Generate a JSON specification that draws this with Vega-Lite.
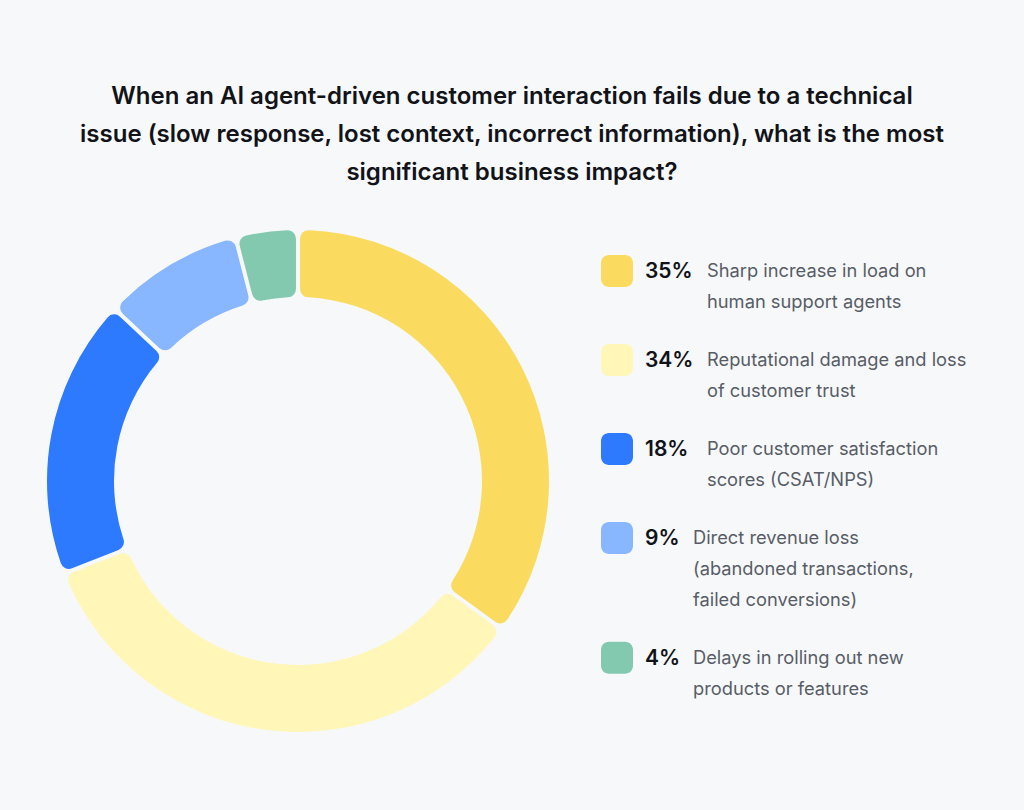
{
  "$schema": "https://vega.github.io/schema/vega-lite/v6.json",
  "background": "#F7F8FA",
  "padding": {"top": 85, "left": 0, "right": 0, "bottom": 46},
  "title": {
    "text": ["When an AI agent-driven customer interaction fails due to a technical", "issue (slow response, lost context, incorrect information), what is the most", "significant business impact?"],
    "anchor": "middle",
    "font": "Inter",
    "fontSize": 24,
    "fontWeight": 600,
    "lineHeight": 38,
    "baseline": "top",
    "color": "#111318",
    "offset": 6
  },
  "data": {
    "values": [
      {"idx": 1, "pct": "35%", "value": 35, "category": "Sharp increase in load on human support agents", "label": ["Sharp increase in load on", "human support agents"]},
      {"idx": 2, "pct": "34%", "value": 34, "category": "Reputational damage and loss of customer trust", "label": ["Reputational damage and loss", "of customer trust"]},
      {"idx": 3, "pct": "18%", "value": 18, "category": "Poor customer satisfaction scores (CSAT/NPS)", "label": ["Poor customer satisfaction", "scores (CSAT/NPS)"]},
      {"idx": 4, "pct": "9%", "value": 9, "category": "Direct revenue loss (abandoned transactions, failed conversions)", "label": ["Direct revenue loss", "(abandoned transactions,", "failed conversions)"]},
      {"idx": 5, "pct": "4%", "value": 4, "category": "Delays in rolling out new products or features", "label": ["Delays in rolling out new", "products or features"]}
    ]
  },
  "spacing": 0,
  "resolve": {"scale": {"color": "shared"}},
  "hconcat": [
    {
      "width": 596,
      "height": 580,
      "mark": {"type": "arc", "radius": 251, "radius2": 184, "cornerRadius": 8.5, "padAngle": 0.013},
      "encoding": {
        "theta": {"field": "value", "type": "quantitative", "stack": true},
        "order": {"field": "idx", "type": "quantitative"},
        "color": {
          "field": "category",
          "type": "nominal",
          "legend": null,
          "scale": {
            "domain": ["Sharp increase in load on human support agents", "Reputational damage and loss of customer trust", "Poor customer satisfaction scores (CSAT/NPS)", "Direct revenue loss (abandoned transactions, failed conversions)", "Delays in rolling out new products or features"],
            "range": ["#FADB5F", "#FFF6B8", "#2E7AFF", "#88B6FF", "#83C9B0"]
          }
        }
      }
    },
    {
      "width": 428,
      "height": 580,
      "transform": [
        {"calculate": "length(datum.label)", "as": "lines"},
        {"window": [{"op": "sum", "field": "lines", "as": "cumAll"}], "sort": [{"field": "idx"}], "frame": [null, 0]},
        {"calculate": "datum.cumAll - datum.lines + (datum.idx - 1) * 0.87", "as": "ypos"},
        {"calculate": "datum.ypos - 0.516", "as": "ytop"},
        {"calculate": "datum.ypos + 0.516", "as": "ybot"},
        {"calculate": "datum.value >= 10 ? 111 : 97", "as": "lx"},
        {"calculate": "5", "as": "sx1"},
        {"calculate": "37", "as": "sx2"},
        {"calculate": "49", "as": "px"}
      ],
      "layer": [
        {
          "mark": {"type": "rect", "cornerRadius": 8},
          "encoding": {
            "x": {"field": "sx1", "type": "quantitative", "axis": null, "scale": {"domain": [0, 428], "nice": false, "zero": false}},
            "x2": {"field": "sx2"},
            "y": {"field": "ytop", "type": "quantitative", "axis": null, "scale": {"domain": [-2.58, 16.13], "reverse": true, "zero": false, "nice": false}},
            "y2": {"field": "ybot"},
            "color": {"field": "category", "type": "nominal", "legend": null}
          }
        },
        {
          "mark": {"type": "text", "align": "left", "baseline": "alphabetic", "dy": 7.5, "font": "Inter", "fontSize": 21, "fontWeight": 600, "fill": "#111318"},
          "encoding": {
            "x": {"field": "px", "type": "quantitative"},
            "y": {"field": "ypos", "type": "quantitative"},
            "text": {"field": "pct"}
          }
        },
        {
          "mark": {"type": "text", "align": "left", "baseline": "alphabetic", "dy": 6.5, "font": "Inter", "fontSize": 18.3, "lineHeight": 31, "fill": "#575D66"},
          "encoding": {
            "x": {"field": "lx", "type": "quantitative"},
            "y": {"field": "ypos", "type": "quantitative"},
            "text": {"field": "label"}
          }
        }
      ]
    }
  ],
  "config": {"view": {"stroke": null}}
}
